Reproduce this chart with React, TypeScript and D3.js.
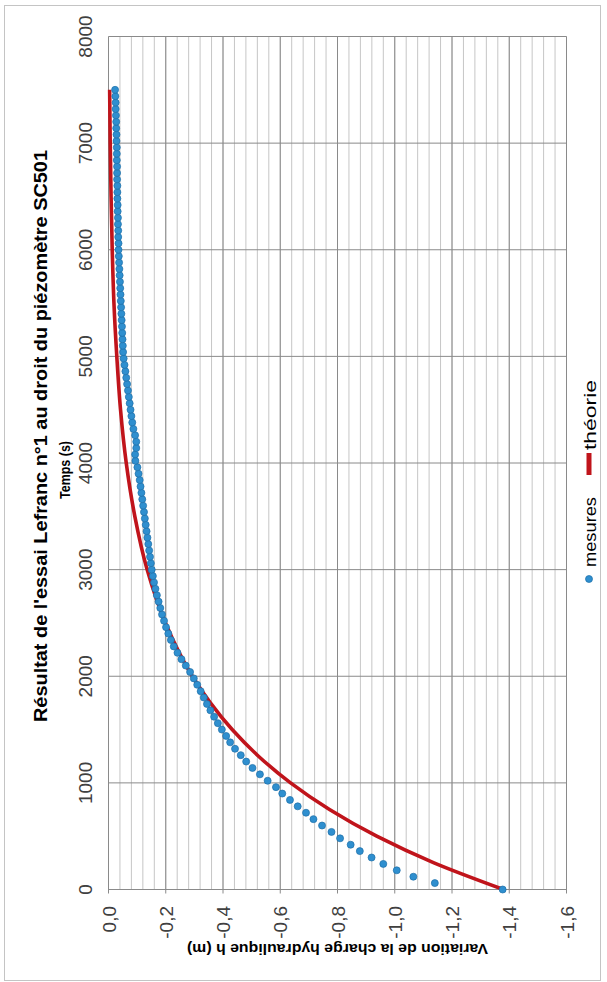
import React from "react";
import * as d3 from "d3";

// ---- data ----
const MEAS_T = [
  0, 60, 120, 180, 240, 300, 360, 420, 480, 540, 600, 660, 720, 780, 840, 900, 960, 1020, 1080, 1140,
  1200, 1260, 1320, 1380, 1440, 1500, 1560, 1620, 1680, 1740, 1800, 1860, 1920, 1980, 2040, 2100, 2160,
  2220, 2280, 2340, 2400, 2460, 2520, 2580, 2640, 2700, 2760, 2820, 2880, 2940, 3000, 3060, 3120, 3180,
  3240, 3300, 3360, 3420, 3480, 3540, 3600, 3660, 3720, 3780, 3840, 3900, 3960, 4020, 4080, 4140, 4200,
  4260, 4320, 4380, 4440, 4500, 4560, 4620, 4680, 4740, 4800, 4860, 4920, 4980, 5040, 5100, 5160, 5220,
  5280, 5340, 5400, 5460, 5520, 5580, 5640, 5700, 5760, 5820, 5880, 5940, 6000, 6060, 6120, 6180, 6240,
  6300, 6360, 6420, 6480, 6540, 6600, 6660, 6720, 6780, 6840, 6900, 6960, 7020, 7080, 7140, 7200, 7260,
  7320, 7380, 7440, 7500,
];
const MEAS_H = [
  -1.377, -1.14, -1.065, -1.007, -0.96, -0.919, -0.878, -0.846, -0.809, -0.779, -0.746, -0.716, -0.69,
  -0.661, -0.634, -0.607, -0.585, -0.556, -0.529, -0.503, -0.481, -0.462, -0.442, -0.425, -0.411, -0.396,
  -0.382, -0.369, -0.356, -0.344, -0.333, -0.322, -0.31, -0.298, -0.285, -0.27, -0.255, -0.241, -0.228,
  -0.218, -0.209, -0.201, -0.194, -0.187, -0.181, -0.175, -0.169, -0.164, -0.159, -0.155, -0.151, -0.148,
  -0.145, -0.142, -0.139, -0.136, -0.133, -0.13, -0.127, -0.124, -0.121, -0.118, -0.115, -0.112, -0.109,
  -0.105, -0.101, -0.094, -0.093, -0.097, -0.097, -0.093, -0.087, -0.083, -0.08, -0.077, -0.074, -0.071,
  -0.068, -0.065, -0.062, -0.059, -0.056, -0.053, -0.051, -0.05, -0.049, -0.048, -0.047, -0.046, -0.045,
  -0.044, -0.043, -0.042, -0.041, -0.04, -0.039, -0.038, -0.037, -0.036, -0.035, -0.035, -0.034, -0.034,
  -0.033, -0.033, -0.032, -0.032, -0.031, -0.031, -0.031, -0.03, -0.03, -0.03, -0.029, -0.029, -0.029,
  -0.028, -0.028, -0.027, -0.027, -0.026, -0.025, -0.025, -0.024, -0.023,
];
const THEO_T = [0, 250, 500, 750, 1000, 1250, 1500, 1750, 2000, 2500, 3000, 3500, 4000, 4500, 5000, 5500, 6000, 6500, 7000, 7500];
const THEO_H = [-1.38, -1.137, -0.937, -0.772, -0.636, -0.524, -0.432, -0.356, -0.293, -0.199, -0.135, -0.092, -0.062, -0.042, -0.029, -0.019, -0.013, -0.009, -0.006, -0.004];

const TIME_TICKS = [0, 1000, 2000, 3000, 4000, 5000, 6000, 7000, 8000];
const H_TICKS = [0, -0.2, -0.4, -0.6, -0.8, -1.0, -1.2, -1.4, -1.6];

const TITLE = "Résultat de l'essai Lefranc n°1 au droit du piézomètre SC501";
const TIME_LABEL = "Temps (s)";
const H_LABEL = "Variation de la charge hydraulique h (m)";
const LEGEND = ["mesures", "théorie"];

const W = 607;
const H = 982;

export default function App() {
  const x = d3.scaleLinear().domain([0, -1.6]).range([108.5, 566.5]);
  const y = d3.scaleLinear().domain([0, 8000]).range([889.5, 36.5]);

  const minor = d3.range(0, 41).map((i) => -i * 0.04);
  const fmtH = (v: number) => v.toFixed(1).replace(".", ",");

  const theo = THEO_T.map((t, i) => ({ t, h: THEO_H[i] }));
  const meas = MEAS_T.map((t, i) => ({ t, h: MEAS_H[i] }));

  const line = d3
    .line<{ t: number; h: number }>()
    .x((d) => x(d.h))
    .y((d) => y(d.t))
    .curve(d3.curveMonotoneY);

  const tickFont = "'Liberation Sans Narrow', 'Liberation Sans', Arial, sans-serif";
  const font = "'Liberation Sans', Arial, sans-serif";

  return (
    <svg
      width={W}
      height={H}
      style={{ position: "absolute", left: 0, top: 0, background: "#fff" }}
    >
      <rect x={4.5} y={5.5} width={596} height={975} fill="#fff" stroke="#c4c4c4" />

      {/* minor vertical grid */}
      {minor.map((v, i) => (
        <line key={"m" + i} x1={x(v)} x2={x(v)} y1={y(8000)} y2={y(0)} stroke="#c6c6c6" strokeWidth={1} />
      ))}
      {/* major vertical grid + ticks */}
      {H_TICKS.map((v, i) => (
        <line key={"M" + i} x1={x(v)} x2={x(v)} y1={y(8000)} y2={y(0) + 4} stroke="#8a8a8a" strokeWidth={1} />
      ))}
      {/* horizontal grid */}
      {TIME_TICKS.map((t, i) => (
        <line key={"h" + i} x1={x(0)} x2={x(-1.6)} y1={y(t)} y2={y(t)} stroke="#8a8a8a" strokeWidth={1} />
      ))}

      {/* theory curve */}
      <path d={line(theo) || ""} fill="none" stroke="#c0141b" strokeWidth={3.6} strokeLinejoin="round" />

      {/* measurements */}
      {meas.map((d, i) => (
        <circle key={"p" + i} cx={x(d.h)} cy={y(d.t)} r={3.5} fill="#2f8fcf" stroke="#1d6ea8" strokeWidth={0.7} />
      ))}

      {/* time tick labels */}
      {TIME_TICKS.map((t, i) => (
        <text
          key={"tt" + i}
          transform={`translate(92,${y(t)}) rotate(-90)`}
          textAnchor="middle"
          fontFamily={tickFont}
          fontSize={19}
          fill="#404040"
        >
          {t}
        </text>
      ))}

      {/* h tick labels */}
      {H_TICKS.map((v, i) => (
        <text
          key={"ht" + i}
          transform={`translate(${x(v) + 7},906) rotate(-90)`}
          textAnchor="end"
          fontFamily={tickFont}
          fontSize={19}
          fill="#404040"
        >
          {fmtH(v)}
        </text>
      ))}

      {/* title */}
      <text
        transform={`translate(47,436) rotate(-90)`}
        textAnchor="middle"
        fontFamily={font}
        fontWeight="bold"
        fontSize={17.5}
        fill="#000"
        textLength={572}
        lengthAdjust="spacingAndGlyphs"
      >
        {TITLE}
      </text>

      {/* time axis label */}
      <text
        transform={`translate(70,470) rotate(-90)`}
        textAnchor="middle"
        fontFamily={font}
        fontWeight="bold"
        fontSize={14.5}
        fill="#000"
        textLength={58}
        lengthAdjust="spacingAndGlyphs"
      >
        {TIME_LABEL}
      </text>

      {/* h axis label (upside down) */}
      <text
        transform={`translate(${(x(0) + x(-1.6)) / 2},944) rotate(180)`}
        textAnchor="middle"
        fontFamily={font}
        fontWeight="bold"
        fontSize={15}
        fill="#000"
        textLength={301}
        lengthAdjust="spacingAndGlyphs"
      >
        {H_LABEL}
      </text>

      {/* legend */}
      <circle cx={589} cy={579} r={3.5} fill="#2f8fcf" stroke="#1d6ea8" strokeWidth={0.7} />
      <text
        transform={`translate(596,567) rotate(-90)`}
        fontFamily={font}
        fontSize={17}
        fill="#000"
        textLength={70}
        lengthAdjust="spacingAndGlyphs"
      >
        {LEGEND[0]}
      </text>
      <line x1={589} x2={589} y1={475} y2={453} stroke="#c0141b" strokeWidth={5} />
      <text
        transform={`translate(596,450) rotate(-90)`}
        fontFamily={font}
        fontSize={17}
        fill="#000"
        textLength={70}
        lengthAdjust="spacingAndGlyphs"
      >
        {LEGEND[1]}
      </text>
    </svg>
  );
}
